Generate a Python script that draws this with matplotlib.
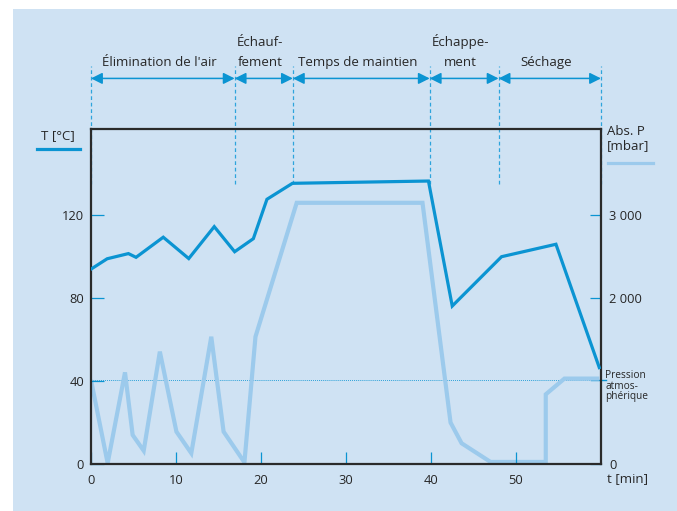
import matplotlib
matplotlib.use("Agg")
import matplotlib.pyplot as plt
import matplotlib.transforms as mtransforms
from matplotlib.patches import Rectangle
from matplotlib.lines import Line2D

plt.rcParams['font.family'] = ['Open Sans', 'DejaVu Sans']

# Sterilisation cycle: chamber temperature and absolute pressure over time
t_temp = [0, 1.9, 4.4, 5.3, 8.5, 11.5, 14.5, 16.9, 19.1, 20.7, 23.7, 39.7,
          42.5, 48.3, 54.7, 59.8]
temp_c = [94, 99, 101.5, 99.7, 109.4, 99.1, 114.5, 102.4, 108.7, 127.7,
          135.4, 136.5, 76.2, 100, 106, 46.5]

t_pres = [0, 1.96, 4.0, 4.9, 6.2, 8.1, 10.05, 11.8, 14.15, 15.6, 18.05, 19.35,
          24.2, 39.0, 42.3, 43.6, 47.0, 53.5, 53.5, 55.7, 59.8]
pres_mbar = [1013, 10, 1105, 350, 160, 1355, 390, 130, 1535, 390, 20, 1535,
             3150, 3150, 500, 250, 25, 25, 840, 1030, 1030]

atm_pressure = 1013

phase_bounds = [0, 16.9, 23.75, 39.85, 47.95, 60]
phase_labels = ["Élimination de l'air", "Échauf-\nfement", "Temps de maintien",
                "Échappe-\nment", "Séchage"]

x_ticks = [0, 10, 20, 30, 40, 50]
t_ticks = [0, 40, 80, 120]
p_ticks = [0, 2000, 3000]
p_tick_labels = ["0", "2 000", "3 000"]

PANEL = "#cfe2f3"
T_BLUE = "#0b94d2"
P_BLUE = "#9ccaec"
DASH_BLUE = "#2ea4dc"
TEXT = "#262626"
SPINE = "#2a2a2a"

W, H = 677, 511
fig = plt.figure(figsize=(W / 100, H / 100), dpi=100)
fig.patch.set_facecolor("white")
fig.add_artist(Rectangle((13 / W, 0), 1 - 13 / W, 1 - 9 / H,
                         transform=fig.transFigure, facecolor=PANEL,
                         edgecolor="none", zorder=-10))

left, right, bottom, top = 91 / W, 601 / W, 1 - 464 / H, 1 - 129 / H
ax = fig.add_axes([left, bottom, right - left, top - bottom])
ax2 = ax.twinx()
ax.set_zorder(ax2.get_zorder() + 1)
ax.patch.set_visible(False)
ax2.patch.set_visible(False)

T_MAX = 161.6
ax.set_xlim(0, 60)
ax.set_ylim(0, T_MAX)
ax2.set_ylim(0, T_MAX * 25)

# pressure curve and atmospheric reference
ax2.plot(t_pres, pres_mbar, color=P_BLUE, lw=3.0, solid_joinstyle="miter",
         solid_capstyle="butt", zorder=3)
ax2.axhline(atm_pressure, color=T_BLUE, lw=0.7, ls=(0, (0.8, 1.2)), zorder=2)
btr2 = mtransforms.blended_transform_factory(ax2.transAxes, ax2.transData)
ax2.plot([0.98, 1.01], [atm_pressure, atm_pressure], color=T_BLUE, lw=1.0,
         transform=btr2, clip_on=False)
ax2.text(1.008, atm_pressure - 75, "Pression\natmos-\nphérique", transform=btr2,
         ha="left", va="center", fontsize=7.3, color=TEXT, linespacing=0.95)

# temperature curve
ax.plot(t_temp, temp_c, color=T_BLUE, lw=2.3, solid_joinstyle="miter", zorder=4)

for s in ax.spines.values():
    s.set_color(SPINE)
    s.set_linewidth(1.6)
for s in ax2.spines.values():
    s.set_visible(False)

ax.set_xticks(x_ticks)
ax.set_yticks(t_ticks)
ax.tick_params(axis="both", direction="in", length=9, width=0.9, color=T_BLUE,
               labelcolor=TEXT, labelsize=9.3)
ax.tick_params(axis="x", pad=7)
ax.tick_params(axis="y", pad=5)
ax2.set_yticks(p_ticks)
ax2.set_yticklabels(p_tick_labels)
ax2.tick_params(axis="y", direction="in", length=8, width=0.9, color=T_BLUE,
                labelcolor=TEXT, labelsize=9.3, pad=6)

# phase boundaries, arrows and names above the plot
btr = mtransforms.blended_transform_factory(ax.transData, ax.transAxes)
for b in phase_bounds:
    ax.plot([b, b], [0.835, 1.188], color=DASH_BLUE, lw=0.9, ls=(0, (3, 2.2)),
            transform=btr, clip_on=False, zorder=1)
for i, name in enumerate(phase_labels):
    b0, b1 = phase_bounds[i], phase_bounds[i + 1]
    ax.annotate("", xy=(b1, 1.151), xytext=(b0, 1.151), xycoords=btr,
                textcoords=btr,
                arrowprops=dict(arrowstyle="<|-|>,head_length=0.4,head_width=0.2",
                                color=T_BLUE, lw=1.1, shrinkA=0, shrinkB=0,
                                mutation_scale=17))
    ax.text((b0 + b1) / 2 - 0.45, 1.179, name, transform=btr, ha="center",
            va="bottom", fontsize=9.5, color=TEXT, linespacing=1.75)

# axis captions with their line keys
fig.text(58 / W, 1 - 136 / H, "T [°C]", ha="center", va="center",
         fontsize=9.5, color=TEXT)
fig.add_artist(Line2D([37 / W, 80 / W], [1 - 149.3 / H] * 2, color=T_BLUE,
                      lw=2.3, transform=fig.transFigure))
fig.text(607 / W, 1 - 138.5 / H, "Abs. P\n[mbar]", ha="left", va="center",
         fontsize=9.5, color=TEXT, linespacing=1.15)
fig.add_artist(Line2D([608 / W, 653 / W], [1 - 163.3 / H] * 2, color=P_BLUE,
                      lw=2.3, transform=fig.transFigure))
fig.text(607 / W, 1 - 478.5 / H, "t [min]", ha="left", va="center",
         fontsize=9.5, color=TEXT)

fig.savefig("out.png", dpi=100)
